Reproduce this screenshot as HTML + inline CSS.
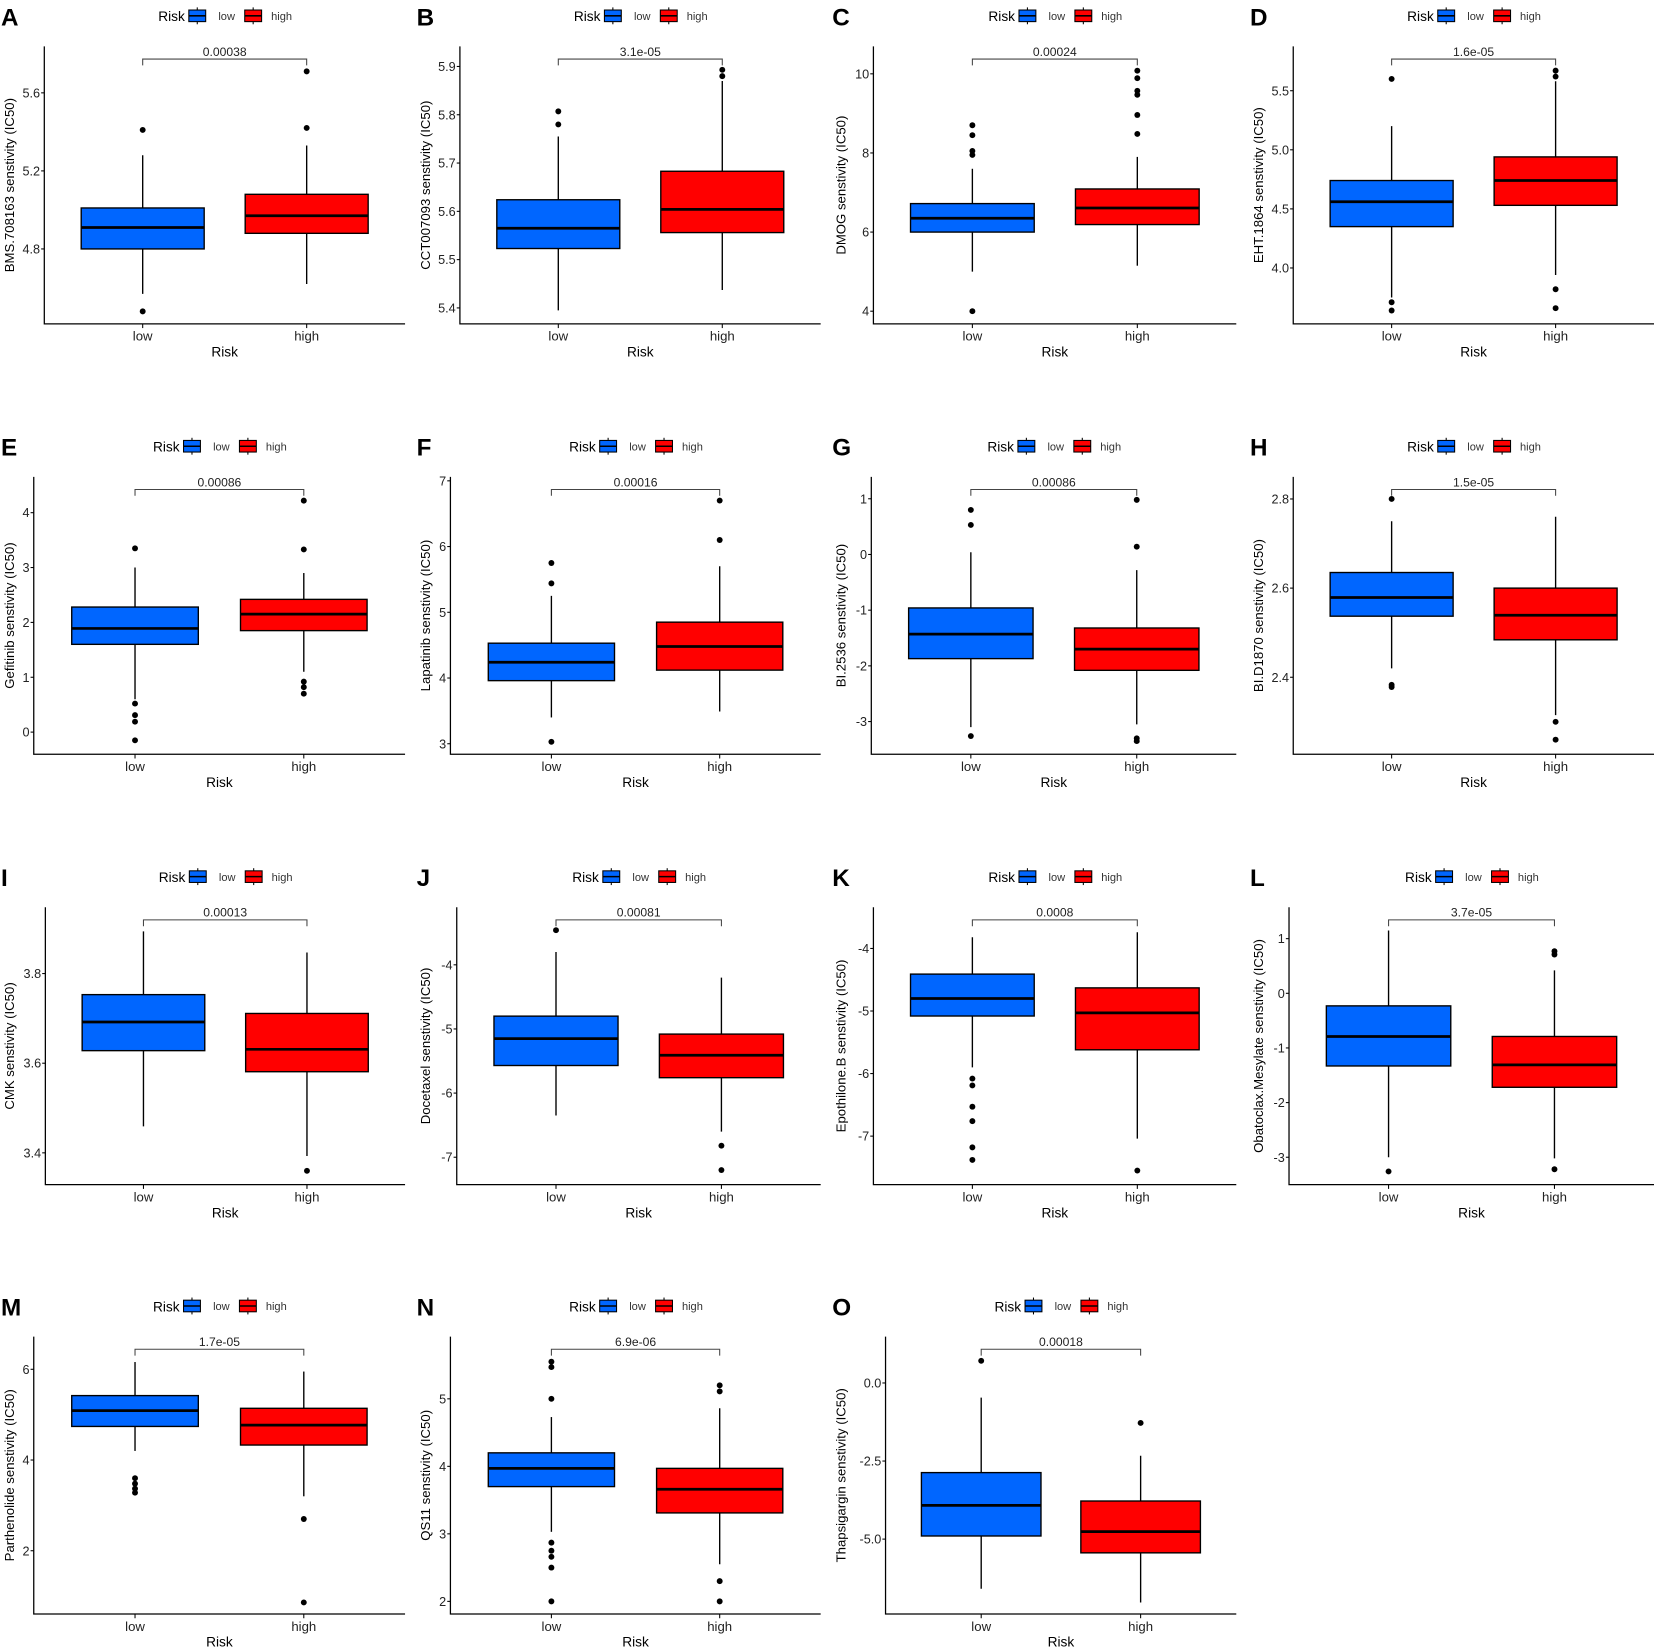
<!DOCTYPE html>
<html><head><meta charset="utf-8"><style>
html,body{margin:0;padding:0;background:#fff}
svg{display:block;font-family:"Liberation Sans",Arial,sans-serif}
</style></head><body>
<svg id="fig" width="1654" height="1652" viewBox="0 0 1568 1566" preserveAspectRatio="none" xmlns="http://www.w3.org/2000/svg"></svg>
<script>
const panelLetters = ["A","B","C","D","E","F","G","H","I","J","K","L","M","N","O"];
const drugNames = ["BMS.708163","CCT007093","DMOG","EHT.1864","Gefitinib","Lapatinib","BI.2536","BI.D1870","CMK","Docetaxel","Epothilone.B","Obatoclax.Mesylate","Parthenolide","QS11","Thapsigargin"];
const pValues = ["0.00038","3.1e-05","0.00024","1.6e-05","0.00086","0.00016","0.00086","1.5e-05","0.00013","0.00081","0.0008","3.7e-05","1.7e-05","6.9e-06","0.00018"];
const categories = ["low","high"];
// [whiskerMin, q1, median, q3, whiskerMax]
const lowStats = [
 [4.57,4.80,4.91,5.01,5.28],[5.395,5.523,5.565,5.624,5.755],[5.0,6.0,6.35,6.72,7.6],[3.75,4.35,4.56,4.74,5.2],
 [0.6,1.6,1.89,2.28,3.0],[3.4,3.96,4.24,4.53,5.25],[-3.1,-1.87,-1.43,-0.96,0.04],[2.42,2.537,2.579,2.635,2.75],
 [3.459,3.628,3.692,3.753,3.894],[-6.35,-5.57,-5.15,-4.8,-3.8],[-5.9,-5.08,-4.8,-4.41,-3.82],[-3.0,-1.33,-0.79,-0.23,1.15],
 [4.2,4.74,5.09,5.42,6.16],[3.03,3.7,3.97,4.2,4.73],[-6.59,-4.9,-3.92,-2.87,-0.47]];
const highStats = [
 [4.62,4.88,4.97,5.08,5.33],[5.437,5.556,5.604,5.683,5.87],[5.15,6.19,6.61,7.09,7.9],[3.94,4.53,4.74,4.94,5.58],
 [1.1,1.85,2.15,2.42,2.9],[3.49,4.12,4.48,4.85,5.7],[-3.05,-2.08,-1.7,-1.32,-0.28],[2.315,2.484,2.539,2.6,2.76],
 [3.393,3.581,3.631,3.711,3.847],[-6.6,-5.76,-5.41,-5.08,-4.2],[-7.04,-5.62,-5.03,-4.63,-3.74],[-3.02,-1.72,-1.31,-0.79,0.42],
 [3.2,4.33,4.77,5.14,5.95],[2.55,3.31,3.66,3.97,4.86],[-7.03,-5.44,-4.76,-3.78,-2.33]];
const lowOutliers = [[5.41,4.48],[5.807,5.78],[8.7,8.45,8.05,7.95,4.0],[5.6,3.71,3.64],
 [3.35,0.52,0.31,0.19,-0.15],[5.75,5.44,3.03],[0.8,0.53,-3.26],[2.8,2.383,2.378],
 [],[-3.46],[-6.08,-6.19,-6.53,-6.76,-7.18,-7.38],[-3.26],
 [3.6,3.48,3.37,3.28],[5.55,5.47,5.0,2.87,2.75,2.66,2.5,2.0],[0.71]];
const highOutliers = [[5.42,5.71],[5.893,5.88],[8.48,8.96,9.47,9.57,9.89,10.08],[5.67,5.62,3.82,3.66],
 [3.33,4.22,0.92,0.82,0.7],[6.7,6.1],[0.98,0.14,-3.3,-3.35],[2.3,2.26],
 [3.36],[-6.82,-7.2],[-7.55],[0.77,0.71,-3.22],
 [2.7,0.86],[5.2,5.11,2.3,2.0],[-1.28]];
const yDomains = [[4.416,5.838],[5.367,5.9415],[3.68,10.693],[3.527,5.875],
 [-0.404,4.654],[2.84,7.061],[-3.587,1.394],[2.2272,2.8497],
 [3.329,3.948],[-7.428,-3.102],[-7.776,-3.341],[-3.502,1.575],
 [0.605,6.721],[1.8125,5.922],[-7.399,1.486]];
const tickValues = [[4.8,5.2,5.6],[5.4,5.5,5.6,5.7,5.8,5.9],[4,6,8,10],[4.0,4.5,5.0,5.5],
 [0,1,2,3,4],[3,4,5,6,7],[-3,-2,-1,0,1],[2.4,2.6,2.8],
 [3.4,3.6,3.8],[-7,-6,-5,-4],[-7,-6,-5,-4],[-3,-2,-1,0,1],
 [2,4,6],[2,3,4,5],[-5.0,-2.5,0.0]];
const tickLabels = [["4.8","5.2","5.6"],["5.4","5.5","5.6","5.7","5.8","5.9"],["4","6","8","10"],["4.0","4.5","5.0","5.5"],
 ["0","1","2","3","4"],["3","4","5","6","7"],["-3","-2","-1","0","1"],["2.4","2.6","2.8"],
 ["3.4","3.6","3.8"],["-7","-6","-5","-4"],["-7","-6","-5","-4"],["-3","-2","-1","0","1"],
 ["2","4","6"],["2","3","4","5"],["-5.0","-2.5","0.0"]];

const NS="http://www.w3.org/2000/svg";
const svg=document.getElementById('fig');
const colOff=[0,394,788,1184], rowOff=[0,408,816,1223];
const axLeft=[42,42,40,42,32,33,38,42,43,39,40,38,32,33,51.5];
const COLORS=["#0066ff","#ff0000"];
function mk(tag,attrs,parent){const e=document.createElementNS(NS,tag);for(const k in attrs)e.setAttribute(k,attrs[k]);(parent||svg).appendChild(e);return e;}
function txt(s,attrs,parent){const e=mk('text',attrs,parent);e.textContent=s;return e;}

panelLetters.forEach((L,i)=>{
  const col=i%4,row=Math.floor(i/4);
  const ox=colOff[col],oy=rowOff[row];
  const g=mk('g',{transform:`translate(0,${oy})`});
  
  
  const xL=ox+axLeft[i], xR=(i===14)?1172:ox+384;
  const top=44,bot=307;
  const W=xR-xL;
  const xPos=k=>xL+W*(0.6+k)/2.2;
  const [d0,d1]=yDomains[i];
  const y=v=>bot-(v-d0)/(d1-d0)*(bot-top);
  const hw=W*0.75/2.2/2;
  const lt=txt(L,{x:ox+1,y:24,'font-size':23,'font-weight':'bold',fill:'#000'},g);
  
  
  const cx=(xL+xR)/2;
  const lg=mk('g',{},g);
  
  
  txt('Risk',{x:cx-63,y:20,'font-size':13,fill:'#000'},lg);
  [[cx-35,0,'low',cx-6],[cx+18,1,'high',cx+44]].forEach(([kx,c,lab,tx])=>{
    const e=mk('g',{},lg);
    
    
    mk('line',{x1:kx+9,x2:kx+9,y1:7,y2:23,stroke:'#000','stroke-width':1},e);
    mk('rect',{x:kx+1,y:9.5,width:16,height:11,fill:COLORS[c],stroke:'#000','stroke-width':1},e);
    mk('line',{x1:kx+1,x2:kx+17,y1:15,y2:15,stroke:'#000','stroke-width':1.5},e);
    txt(lab,{x:tx,y:19,'font-size':10.5,fill:'#333'},e);
  });
  const ax=mk('path',{d:`M${xL},${top}V${bot}H${xR}`,fill:'none',stroke:'#000','stroke-width':1.2},g);
  
  
  tickValues[i].forEach((v,k)=>{
    const yy=y(v);
    mk('line',{x1:xL-3,x2:xL,y1:yy,y2:yy,stroke:'#000','stroke-width':1},g);
    const t=txt(tickLabels[i][k],{x:xL-4,y:yy+4.3,'font-size':12,'text-anchor':'end',fill:'#222'},g);
    
    
  });
  categories.forEach((c,k)=>{
    const xx=xPos(k);
    mk('line',{x1:xx,x2:xx,y1:bot,y2:bot+4,stroke:'#000','stroke-width':1},g);
    const t=txt(c,{x:xx,y:bot+16,'font-size':12.5,'text-anchor':'middle',fill:'#222'},g);
    
    
  });
  const xt=txt('Risk',{x:(xL+xR)/2,y:bot+31,'font-size':13,'text-anchor':'middle',fill:'#000'},g);
  
  
  const ymid=(top+bot)/2, lx=ox+13.5;
  const yt=txt(drugNames[i]+' senstivity (IC50)',{x:lx,y:ymid,'font-size':12.5,'text-anchor':'middle',fill:'#000',transform:`rotate(-90 ${lx} ${ymid})`},g);
  
  
  [lowStats[i],highStats[i]].forEach((s,k)=>{
    const xx=xPos(k);
    const bg=mk('g',{},g);
    
    
    mk('line',{x1:xx,x2:xx,y1:y(s[0]),y2:y(s[4]),stroke:'#000','stroke-width':1.3},bg);
    mk('rect',{x:xx-hw,y:y(s[3]),width:2*hw,height:y(s[1])-y(s[3]),fill:COLORS[k],stroke:'#000','stroke-width':1.3},bg);
    mk('line',{x1:xx-hw,x2:xx+hw,y1:y(s[2]),y2:y(s[2]),stroke:'#000','stroke-width':2.6},bg);
    [lowOutliers[i],highOutliers[i]][k].forEach(v=>{
      const d=mk('circle',{cx:xx,cy:y(v),r:2.8,fill:'#000'},bg);
      
      
    });
  });
  const x0=xPos(0),x1=xPos(1);
  const br=mk('path',{d:`M${x0},62V56H${x1}V62`,fill:'none',stroke:'#444','stroke-width':1},g);
  
  
  const pt=txt(pValues[i],{x:(x0+x1)/2,y:53,'font-size':11.5,'text-anchor':'middle',fill:'#222'},g);
  
  
});
</script>
</body></html>
